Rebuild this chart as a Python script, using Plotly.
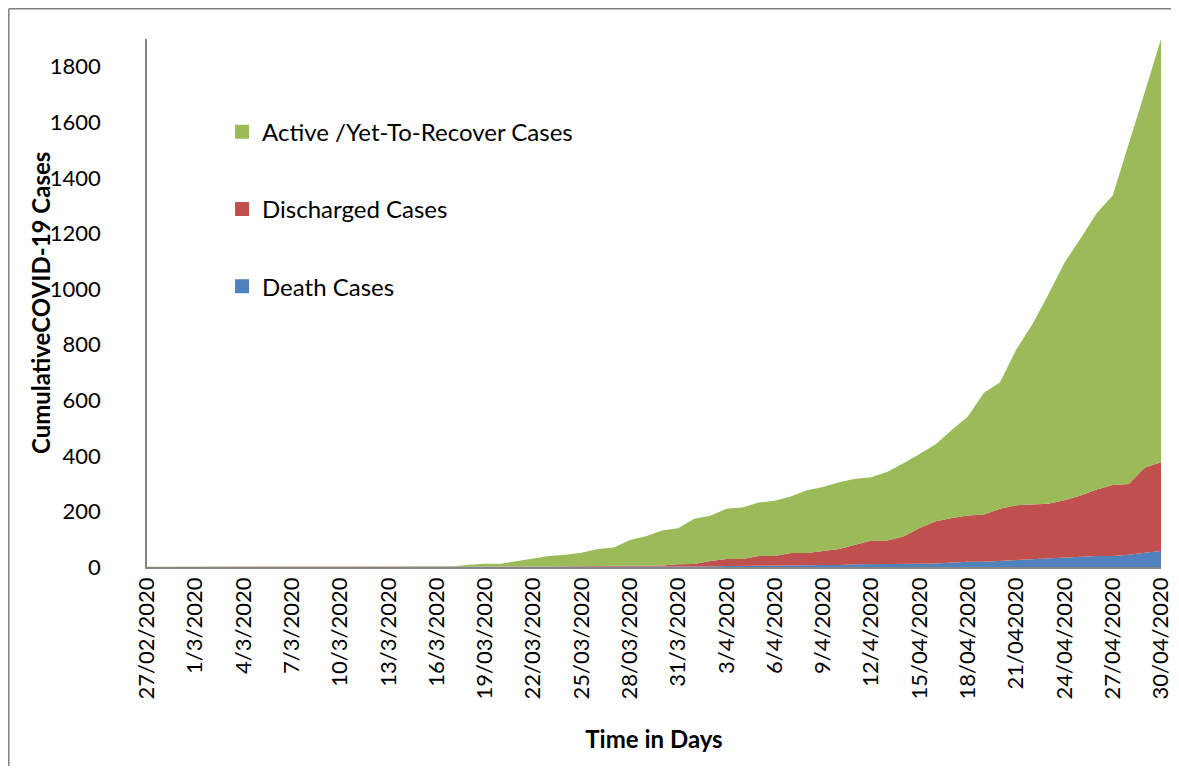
import plotly.graph_objects as go

# 27/02/2020 .. 30/04/2020, one value per day
days = (["27/02", "28/02", "29/02"]
        + [f"{d}/03" for d in range(1, 32)]
        + [f"{d}/04" for d in range(1, 31)])

tick_labels = ["27/02/2020", "1/3/2020", "4/3/2020", "7/3/2020", "10/3/2020",
               "13/3/2020", "16/3/2020", "19/03/2020", "22/03/2020", "25/03/2020",
               "28/03/2020", "31/3/2020", "3/4/2020", "6/4/2020", "9/4/2020",
               "12/4/2020", "15/04/2020", "18/04/2020", "21/042020", "24/04/2020",
               "27/04/2020", "30/04/2020"]

death_cases = ([0] * 19
               + [0, 0, 0, 0, 0, 0, 1, 1, 1, 1, 1, 1, 1, 2, 2]
               + [2, 2, 4, 4, 5, 5, 6, 6, 7, 7, 10, 10, 10, 11, 12,
                  13, 17, 19, 19, 22, 25, 28, 31, 32, 35, 40, 40, 44, 51, 58])

discharged_cases = ([0] * 19
                    + [0, 0, 0, 1, 1, 1, 1, 2, 2, 2, 2, 3, 3, 3, 8]
                    + [9, 20, 25, 25, 35, 35, 44, 44, 51, 58, 70, 85, 85, 99, 128,
                       152, 159, 166, 170, 188, 197, 197, 197, 208, 222, 239, 255, 255, 307, 319])

active_cases = ([1] * 11 + [2] * 8
                + [3, 8, 12, 11, 21, 29, 38, 41, 48, 62, 67, 93, 107, 126, 129]
                + [163, 162, 181, 185, 192, 198, 204, 226, 230, 240, 238, 228, 248, 263, 267,
                   277, 317, 357, 438, 455, 560, 648, 753, 855, 925, 994, 1042, 1221, 1352, 1523])

COLORS = {"active": "#9BBB59", "discharged": "#C0504D", "death": "#4F81BD"}
FONT = "Lato, 'Open Sans', sans-serif"

x = list(range(len(days)))

fig = go.Figure()
for name, vals, key in [("Death Cases", death_cases, "death"),
                        ("Discharged Cases", discharged_cases, "discharged"),
                        ("Active /Yet-To-Recover Cases", active_cases, "active")]:
    fig.add_trace(go.Scatter(
        x=x, y=vals, name=name, stackgroup="one", mode="lines",
        line=dict(width=0), fillcolor=COLORS[key], showlegend=False,
        hovertext=days,
    ))

# square legend markers like the original
for name, key in [("Active /Yet-To-Recover Cases", "active"),
                  ("Discharged Cases", "discharged"),
                  ("Death Cases", "death")]:
    fig.add_trace(go.Scatter(
        x=[None], y=[None], mode="markers", name=name, legendgroup=key,
        marker=dict(symbol="square", size=14, color=COLORS[key]),
    ))

# page body adds an 8px margin, so the figure is shifted by that amount
fig.update_layout(
    width=1171, height=758,
    margin=dict(l=139, r=18, t=31, b=199),
    paper_bgcolor="white", plot_bgcolor="white",
    font=dict(family=FONT, size=22, color="black"),
    legend=dict(
        x=0.074, y=0.866, xanchor="left", yanchor="top",
        traceorder="grouped", tracegroupgap=43,
        font=dict(size=24), bgcolor="rgba(0,0,0,0)",
    ),
    xaxis=dict(
        range=[0, len(days) - 1], automargin=False,
        tickvals=x[::3], ticktext=tick_labels, tickangle=-90,
        showline=True, linecolor="#868686", linewidth=1.5,
        showgrid=False, zeroline=False, ticks="",
        title=dict(text="<b>Time in Days</b>", font=dict(size=24), standoff=33),
    ),
    yaxis=dict(
        range=[0, 1900], automargin=False,
        tickvals=list(range(0, 1801, 200)),
        showline=True, linecolor="#868686", linewidth=1.5,
        showgrid=False, zeroline=False, ticks="",
        ticklabelstandoff=40,
    ),
    annotations=[
        dict(text="<b>CumulativeCOVID-19 Cases</b>", xref="paper", yref="paper",
             x=-0.1055, y=0.5, xanchor="center", yanchor="middle", textangle=-90,
             showarrow=False, font=dict(size=24)),
    ],
    shapes=[
        dict(type="line", xref="paper", yref="paper", x0=-0.1363, x1=1.02, y0=1.0573, y1=1.0573,
             line=dict(color="#7f7f7f", width=1.5)),
        dict(type="line", xref="paper", yref="paper", x0=-0.1363, x1=-0.1363, y0=1.0573, y1=-0.38,
             line=dict(color="#7f7f7f", width=1.5)),
    ],
)

fig.write_html("out.html")
